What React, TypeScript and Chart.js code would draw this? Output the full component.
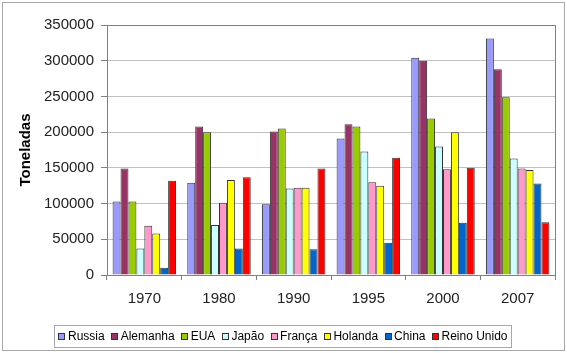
import React, { useEffect, useRef } from "react";
import { Chart, registerables } from "chart.js";

Chart.register(...registerables);

const categories = ["1970", "1980", "1990", "1995", "2000", "2007"];
const seriesNames = ["Russia", "Alemanha", "EUA", "Japão", "França", "Holanda", "China", "Reino Unido"];
const russia = [103000, 129000, 99000, 191000, 304000, 331000];
const alemanha = [149000, 208000, 201000, 211000, 300000, 288000];
const eua = [103000, 200000, 205000, 208000, 219000, 249000];
const japao = [37000, 70000, 121000, 173000, 180000, 163000];
const franca = [69000, 101000, 122000, 130000, 148000, 149000];
const holanda = [58000, 133000, 122000, 125000, 200000, 147000];
const china = [10000, 37000, 36000, 45000, 73000, 128000];
const reinoUnido = [132000, 137000, 149000, 164000, 150000, 74000];
const seriesValues = [russia, alemanha, eua, japao, franca, holanda, china, reinoUnido];
const seriesColors = ["#9999FF", "#993366", "#99CC00", "#CCFFFF", "#FF99CC", "#FFFF00", "#0066CC", "#FF0000"];

const FONT = "'Liberation Sans', Arial, sans-serif";

const framePlugin = {
  id: "frame",
  beforeDraw(chart: any) {
    const { ctx, width, height } = chart;
    ctx.save();
    ctx.fillStyle = "#ffffff";
    ctx.fillRect(0, 0, width, height);
    ctx.strokeStyle = "#a8a8a8";
    ctx.lineWidth = 1;
    ctx.strokeRect(2.5, 2.5, width - 5, height - 5);
    ctx.restore();
  },
  beforeDatasetsDraw(chart: any) {
    const { ctx, chartArea } = chart;
    ctx.save();
    ctx.strokeStyle = "#808080";
    ctx.lineWidth = 1;
    ctx.strokeRect(
      Math.round(chartArea.left) + 0.5,
      Math.round(chartArea.top) + 0.5,
      Math.round(chartArea.right - chartArea.left),
      Math.round(chartArea.bottom - chartArea.top)
    );
    ctx.restore();
  },
  afterDraw(chart: any) {
    const { ctx } = chart;
    const datasets = chart.data.datasets;
    const box = 7;
    const gap = 2.5;
    const spacing = 6.5;
    ctx.save();
    ctx.font = `12px ${FONT}`;
    const widths = datasets.map((d: any) => ctx.measureText(d.label).width);
    const total =
      widths.reduce((a: number, w: number) => a + w + box + gap, 0) + spacing * (datasets.length - 1);
    const centerX = 283;
    const cy = 336;
    const padX = 4;
    const startX = centerX - total / 2;
    // legend frame
    ctx.strokeStyle = "#a8a8a8";
    ctx.lineWidth = 1;
    ctx.strokeRect(Math.round(startX - padX) + 0.5, 325.5, Math.round(total + 2 * padX), 22);
    let x = startX;
    datasets.forEach((d: any, i: number) => {
      ctx.fillStyle = d.backgroundColor;
      ctx.fillRect(Math.round(x), Math.round(cy - box / 2), box, box);
      ctx.strokeStyle = "#333333";
      ctx.strokeRect(Math.round(x) + 0.5, Math.round(cy - box / 2) + 0.5, box - 1, box - 1);
      ctx.fillStyle = "#000";
      ctx.textBaseline = "middle";
      ctx.textAlign = "left";
      ctx.fillText(d.label, x + box + gap, cy + 0.5);
      x += box + gap + widths[i] + spacing;
    });
    ctx.restore();
  },
};

export default function App() {
  const ref = useRef<HTMLCanvasElement>(null);
  useEffect(() => {
    document.body.style.margin = "0";
    const canvas = ref.current!;
    const chart = new Chart(canvas, {
      type: "bar",
      data: {
        labels: categories,
        datasets: seriesNames.map((name, i) => ({
          label: name,
          data: seriesValues[i],
          backgroundColor: seriesColors[i],
          borderColor: "#333333",
          borderWidth: 1,
          categoryPercentage: 0.85,
          barPercentage: 1,
        })),
      },
      options: {
        animation: false,
        responsive: false,
        devicePixelRatio: 1,
        layout: { padding: { top: 25, right: 12, left: 0, bottom: 0 } },
        plugins: {
          tooltip: { enabled: false },
          legend: { display: false },
        },
        scales: {
          x: {
            grid: { drawOnChartArea: false, drawTicks: true, tickLength: 5, color: "#808080", offset: true },
            border: { display: true, color: "#808080" },
            ticks: { color: "#222", font: { family: FONT, size: 15 }, padding: 10 },
            afterFit(scale: any) {
              scale.height = 78;
            },
          },
          y: {
            min: 0,
            max: 350000,
            grid: { color: "#c0c0c0", tickLength: 6, tickColor: "#808080" },
            border: { display: true, color: "#808080" },
            ticks: {
              stepSize: 50000,
              color: "#222",
              font: { family: FONT, size: 15 },
              padding: 7,
              callback: (v: any) => String(v),
            },
            title: {
              display: true,
              text: "Toneladas",
              color: "#000",
              font: { family: FONT, size: 15, weight: "bold" },
              padding: { top: 17, bottom: 0 },
            },
            afterFit(scale: any) {
              scale.width = 107;
            },
          },
        },
      },
      plugins: [framePlugin],
    } as any);
    return () => chart.destroy();
  }, []);
  return (
    <div style={{ width: 567, height: 353 }}>
      <canvas ref={ref} width={567} height={353} style={{ display: "block", width: 567, height: 353 }} />
    </div>
  );
}
